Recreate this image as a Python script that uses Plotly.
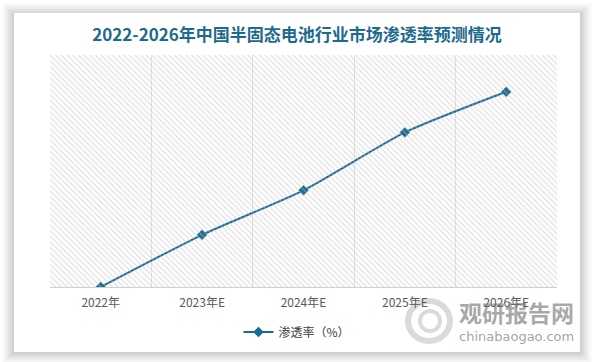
import plotly.graph_objects as go

categories = ["2022年", "2023年E", "2024年E", "2025年E", "2026年E"]
penetration = [0.0, 2.7, 5.0, 8.0, 10.1]
series_name = "渗透率（%）"
title_text = "2022-2026年中国半固态电池行业市场渗透率预测情况"

W, H = 593, 362
LINE = "#1c6a92"
FONT = "Noto Sans CJK SC, Noto Sans, sans-serif"
L, R, T, B = 50, 557, 55, 287
PW, PH = R - L, B - T


def px(x):
    return (x - L) / PW


def py(y):
    return (B - y) / PH


fig = go.Figure()

# hatched plot background on an overlay axis pair
fig.add_trace(go.Scatter(
    x=[0, 1, 1, 0, 0], y=[0, 0, 1, 1, 0], xaxis="x2", yaxis="y2",
    mode="lines", line=dict(width=0), fill="toself",
    fillcolor="rgba(255,255,255,0)",
    fillpattern=dict(shape="\\", fgcolor="#c2c2c2", bgcolor="rgba(255,255,255,0)", size=4, solidity=0.3),
    hoverinfo="skip", showlegend=False,
))

fig.add_trace(go.Scatter(
    x=categories, y=penetration, name=series_name, mode="lines+markers",
    line=dict(color=LINE, width=2, shape="spline", smoothing=0.6),
    marker=dict(symbol="diamond", size=8, color=LINE),
))

shapes = []
for i, op in enumerate([0.02, 0.025, 0.03, 0.035, 0.04, 0.045]):
    d = 12 - 2 * i
    shapes.append(dict(type="rect", layer="below", line=dict(width=0),
                       fillcolor=f"rgba(0,0,0,{op})",
                       xref="paper", yref="paper",
                       x0=px(14 - d), x1=px(580 + d),
                       y0=py(352 + d), y1=py(13 - d + 2)))
shapes.append(dict(type="rect", layer="below", line=dict(width=0), fillcolor="white",
                   xref="paper", yref="paper",
                   x0=px(14), x1=px(580), y0=py(352), y1=py(13)))
# watermark logo (approximate swirl)
shapes.append(dict(type="circle", layer="below", line=dict(width=6, color="rgba(150,150,150,0.35)"),
                   fillcolor="rgba(0,0,0,0)", xref="paper", yref="paper",
                   x0=px(408), x1=px(450), y0=py(341), y1=py(301)))
shapes.append(dict(type="circle", layer="below", line=dict(width=4, color="rgba(150,150,150,0.35)"),
                   fillcolor="rgba(0,0,0,0)", xref="paper", yref="paper",
                   x0=px(420), x1=px(440), y0=py(331), y1=py(311)))

fig.update_layout(
    width=W, height=H,
    margin=dict(l=L, r=W - R, t=T, b=H - B, autoexpand=False),
    paper_bgcolor="white", plot_bgcolor="rgba(0,0,0,0)",
    shapes=shapes,
    title=dict(text=f"<b>{title_text}</b>", x=px(297), xref="paper", xanchor="center", y=1 - 35 / H, yanchor="middle",
               font=dict(size=17, color="#1d6a8d", family=FONT)),
    xaxis=dict(type="category", tickson="boundaries", showgrid=True, gridcolor="#e2e2e2", gridwidth=1,
               showline=True, linecolor="#d0d0d0", linewidth=1, ticks="", zeroline=False,
               ticklabelstandoff=5,
               tickfont=dict(size=12, color="#595959", family=FONT), range=[-0.5, 4.5]),
    yaxis=dict(range=[0, 12], showgrid=False, showticklabels=False, zeroline=False,
               showline=False, ticks=""),
    xaxis2=dict(overlaying="x", range=[0, 1], visible=False, fixedrange=True),
    yaxis2=dict(overlaying="y", range=[0, 1], visible=False, fixedrange=True),
    legend=dict(orientation="h", x=px(297), xanchor="center", y=py(332), yanchor="middle",
                font=dict(size=12, color="#404040", family=FONT), bgcolor="rgba(0,0,0,0)",
                itemwidth=30),
    showlegend=True,
    font=dict(family=FONT),
)

# watermark
fig.add_annotation(xref="paper", yref="paper", x=px(576), y=py(312),
                   xanchor="right", yanchor="middle", showarrow=False,
                   text="<b>观研报告网</b>", font=dict(size=23, color="rgba(110,110,110,0.6)", family=FONT))
fig.add_annotation(xref="paper", yref="paper", x=px(576), y=py(336),
                   xanchor="right", yanchor="middle", showarrow=False,
                   text="chinabaogao.com", font=dict(size=13, color="rgba(110,110,110,0.65)", family="DejaVu Sans"))

fig.write_html("out.html", config={"displayModeBar": False},
               post_script="document.body.style.margin='0';document.body.style.overflow='hidden';")
